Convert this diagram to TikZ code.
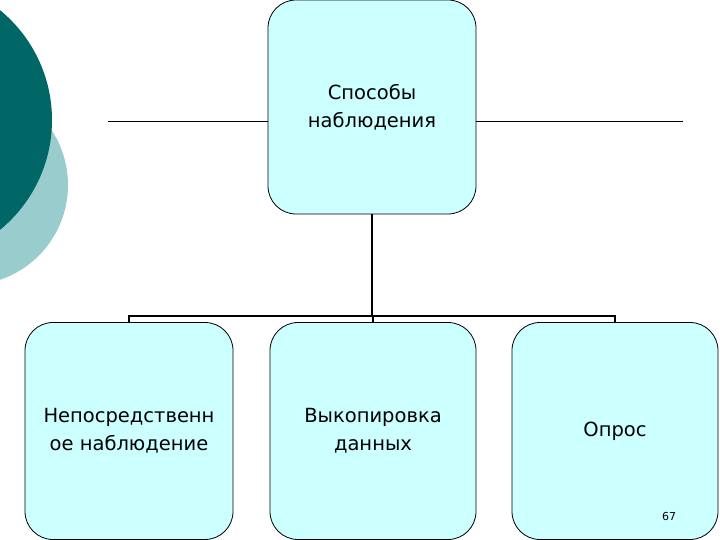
\documentclass[tikz,border=0pt]{standalone}
\usepackage{fontspec}
\setmainfont{DejaVu Sans}
\begin{document}
\begin{tikzpicture}[x=1pt,y=-1pt,
  box/.style={draw=black,line width=0.8pt,fill=boxcol,rounded corners=28pt,align=center,font=\fontsize{19.5}{28}\selectfont},
  conn/.style={line width=1.4pt}]
\definecolor{boxcol}{HTML}{CCFFFF}
\definecolor{dark}{HTML}{006666}
\definecolor{light}{HTML}{99CCCC}
\useasboundingbox (0,0) rectangle (720,540);
\begin{scope}
\clip (0,0) rectangle (720,540);
\fill[light] (-32,185) circle (100);
\fill[dark] (-90,120) circle (142);
\end{scope}
\node[box,minimum width=208pt,minimum height=214pt] (top) at (372,107) {Способы\\наблюдения};
\coordinate (l1) at (108,121); \coordinate (r1) at (683,121);
\draw[line width=0.8pt] (l1) -- (top.west|-l1);
\draw[line width=0.8pt] (top.east|-r1) -- (r1);
\node[box,minimum width=208pt,minimum height=217pt] (b1) at (129,431) {Непосредственн\\ое наблюдение};
\node[box,minimum width=206pt,minimum height=217pt] (b2) at (373,431) {Выкопировка\\данных};
\node[box,minimum width=206pt,minimum height=217pt] (b3) at (615,431) {Опрос};
\coordinate (j) at (372,316);
\draw[conn] (top.south) -- (j);
\draw[conn] (b1.north) -- (b1.north|-j) -- (b3.north|-j) -- (b3.north);
\draw[conn] (b2.north) -- (b2.north|-j);
\node[font=\fontsize{11}{13}\selectfont] (pg) at (669,516) {67};
\end{tikzpicture}
\end{document}
